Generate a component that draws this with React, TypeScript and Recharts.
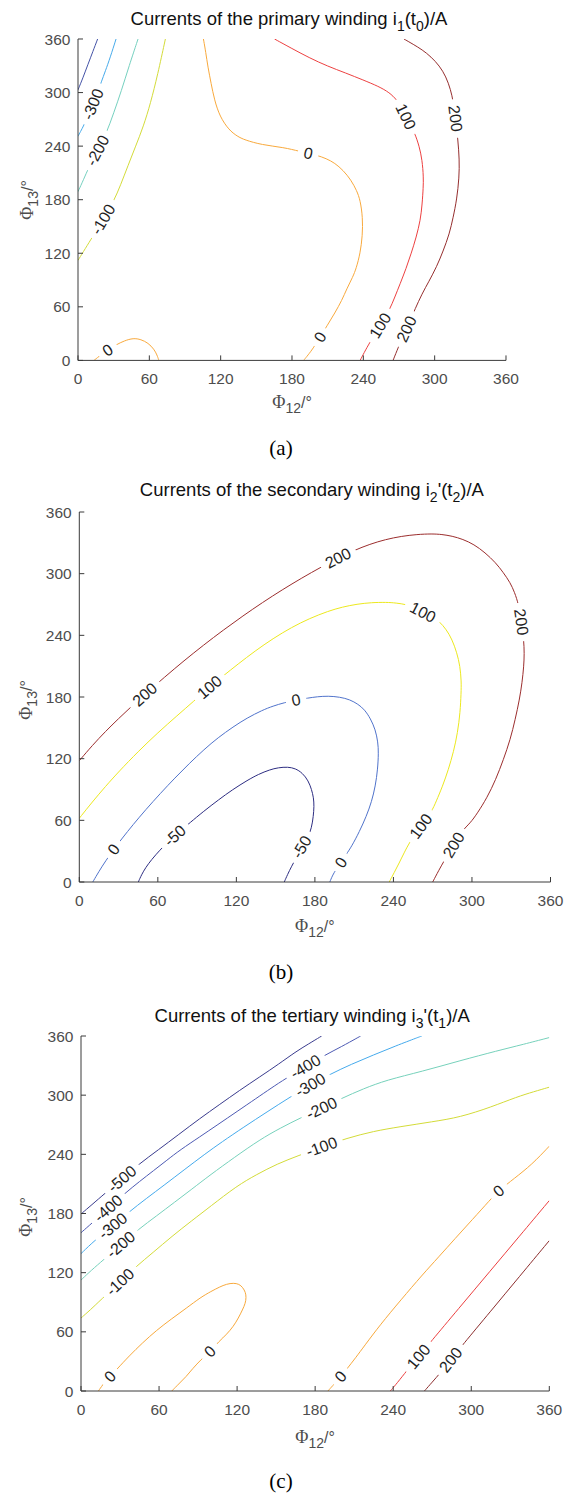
import React from 'react';
import { ComposedChart, Line, Scatter, XAxis, YAxis } from 'recharts';

type Pt = [number, number];
type Lbl = { x: number; y: number; level: number };

const TICKS = [0, 60, 120, 180, 240, 300, 360];

// ---------- Panel (a): primary winding i1(t0) ----------
const A_M400: Pt[] = [[0, 303], [4, 316], [8.5, 332], [12.5, 346], [16.5, 360]];
const A_M300: Pt[] = [[0, 251], [2, 256], [4.8, 263], [8.5, 274], [12.5, 287], [16.5, 300], [19.6, 312], [23, 324], [27, 339], [32, 360]];
const A_M200: Pt[] = [[0, 189], [4.5, 202], [9.3, 217], [16.5, 235], [23.8, 254], [30, 277], [36.5, 302], [43, 330], [50.5, 360]];
const A_M100: Pt[] = [[0, 112], [6, 125], [12.5, 139], [21.2, 158], [30, 178], [36, 197], [42, 218], [48.5, 240], [55, 262], [61, 288], [67, 320], [73.5, 360]];
const A_0A: Pt[] = [[13.5, 0], [19, 6], [25, 11.5], [32, 17.5], [39, 22], [46.5, 25], [53, 23.5], [59, 19.5], [64, 12.5], [66.5, 6], [68, 0]];
const A_0B: Pt[] = [[105.5, 360], [107.5, 345], [109.2, 329], [112, 310], [114.7, 292], [119.3, 273], [127, 258], [134, 251], [140, 247], [154.6, 241.4], [173, 238.6], [186.8, 234], [193.6, 232], [200.5, 230], [209, 226], [216, 221], [223, 213], [229.7, 202], [234.5, 190], [237.4, 179.6], [239.5, 160], [239.3, 140], [237.4, 120], [234, 103], [231.2, 93.6], [226, 80], [222, 67.4], [216, 53], [209.7, 39.3], [203.6, 26], [197.5, 13], [193.5, 6], [189.8, 0]];
const A_100: Pt[] = [[165.3, 360], [179, 350], [194.4, 339], [210, 329.5], [225, 322], [240, 314], [252.7, 307], [262, 300], [268, 292], [272.5, 283], [275.7, 273], [280, 262], [283.3, 254.5], [287, 240], [289.5, 224.6], [290.6, 205], [290.4, 194], [289.5, 175], [288, 157], [284.5, 138], [280.3, 120], [276, 103], [271, 86], [266.5, 71], [261.9, 56], [254.2, 39], [246.5, 22.5], [242, 12], [237.3, 0]];
const A_200: Pt[] = [[274.2, 360], [282, 354], [289.5, 348], [297, 340], [304, 330], [309.5, 318], [313.5, 303], [315.6, 290], [317.5, 271], [319.5, 248], [320.8, 225], [320.6, 205], [318.6, 180], [315.5, 160], [312.5, 142], [307, 122], [301.7, 105], [295, 88], [289.5, 75], [283.3, 57], [280, 46], [276.4, 35], [272.5, 24], [269.5, 15], [265, 0]];
const A_LINES = [
  { level: -400, pts: A_M400 }, { level: -300, pts: A_M300 }, { level: -200, pts: A_M200 },
  { level: -100, pts: A_M100 }, { level: 0, pts: A_0A }, { level: 0, pts: A_0B },
  { level: 100, pts: A_100 }, { level: 200, pts: A_200 },
];
const A_LABELS: Lbl[] = [
  { x: 12.5, y: 287, level: -300 }, { x: 16.5, y: 235, level: -200 }, { x: 21.2, y: 158, level: -100 },
  { x: 25, y: 11.5, level: 0 }, { x: 193.6, y: 232, level: 0 }, { x: 203.6, y: 26, level: 0 },
  { x: 275.7, y: 273, level: 100 }, { x: 254.2, y: 39, level: 100 },
  { x: 317.5, y: 271, level: 200 }, { x: 276.4, y: 35, level: 200 },
];
const A_COLORS: Record<number, string> = {
  [-400]: '#4251a6', [-300]: '#45aaea', [-200]: '#74d0bf', [-100]: '#d3db38',
  0: '#f8a93c', 100: '#ec3f3f', 200: '#952d2d',
};

// ---------- Panel (b): secondary winding i2'(t2) ----------
const B_200: Pt[] = [[0, 118], [10, 133], [20, 146.5], [30, 159], [40, 171], [50, 182.4], [65, 199.2], [80, 215.3], [95, 230.6], [110, 245.1], [125, 258.9], [140, 272], [155, 284.3], [170, 295.8], [185, 306.6], [197.7, 315.1], [210, 322.7], [222, 328.7], [234, 333.3], [246, 336.4], [258, 338.2], [269.4, 338.8], [277, 338.2], [284.8, 336.6], [293, 333.5], [301.5, 328.5], [310, 320.5], [318.2, 310.6], [324, 301], [329.3, 291.1], [332.5, 282], [335.7, 270], [337.7, 253], [339.6, 236], [340, 222], [339.6, 210], [338.3, 194], [336.3, 177.5], [333, 158], [329.3, 138.6], [324, 119], [318.2, 99.6], [311.5, 82], [304.3, 67.2], [298.5, 57], [292.6, 50.3], [286, 36], [279.2, 21.7], [274.5, 11], [270, 0]];
const B_100: Pt[] = [[0, 62], [10, 78], [20, 93], [30, 107.2], [45, 127], [60, 145.3], [75, 162.1], [87, 175.5], [99.5, 189.5], [110, 200.6], [121, 211.8], [134.3, 224.8], [148, 236.9], [162.2, 247.8], [176, 256.5], [190, 263.5], [201, 267.6], [212.3, 270.4], [223, 271.9], [234.6, 272.2], [242, 271.5], [249.9, 270], [256, 267], [262.5, 262.4], [269, 258.5], [275, 253.8], [280.5, 245.5], [284.8, 236], [288.5, 223], [290.9, 210], [291.9, 195], [291.7, 184], [291, 165], [289, 145.1], [286, 127], [282, 109.4], [277.5, 93], [272.5, 78], [269.4, 68.8], [261, 54.2], [252.7, 39.6], [248, 28], [244.4, 18.5], [240.5, 9], [236.8, 0]];
const B_0: Pt[] = [[10.3, 0], [15, 10.3], [20.1, 20.5], [26.3, 31.7], [32.6, 42.3], [41, 55.7], [50.7, 70.3], [62, 86.3], [73, 101.2], [84, 115.3], [95.3, 128.9], [106, 140.5], [117.6, 151], [128, 159.5], [139.9, 167.2], [148, 171.2], [156.6, 174.5], [165.6, 177], [174.7, 179], [182, 180.3], [190, 181], [199, 180], [206.7, 177.5], [213, 173], [217.9, 167.8], [222.5, 159], [226.2, 148.3], [228.2, 136], [228.6, 125.6], [228, 110], [226.2, 93.2], [223.3, 78], [219.3, 63.9], [214, 49], [208.1, 34.7], [204, 27], [200, 19], [194.2, 8.8], [191.4, 0]];
const B_M50: Pt[] = [[45.1, 0], [47.5, 7], [50.7, 14], [55, 21.5], [61.9, 31.5], [67, 38], [73, 45], [78, 50.6], [84.1, 57.2], [95, 68.8], [106.4, 80], [117, 89.8], [128.7, 99.2], [137, 104.9], [145.4, 109.2], [152, 111.3], [159.4, 112], [165, 110.5], [170.5, 106.1], [175, 98.5], [177.5, 89.9], [179, 82], [179.4, 73.7], [178.8, 64], [177.5, 52.6], [174.5, 42.5], [169.8, 34], [166, 24], [162.2, 15.3], [159, 7], [156.6, 0]];
const B_LINES = [
  { level: 200, pts: B_200 }, { level: 100, pts: B_100 }, { level: 0, pts: B_0 }, { level: -50, pts: B_M50 },
];
const B_LABELS: Lbl[] = [
  { x: 50, y: 182.4, level: 200 }, { x: 197.7, y: 315.1, level: 200 }, { x: 337.7, y: 253, level: 200 }, { x: 286, y: 36, level: 200 },
  { x: 99.5, y: 189.5, level: 100 }, { x: 262.5, y: 262.4, level: 100 }, { x: 261, y: 54.2, level: 100 },
  { x: 26.3, y: 31.7, level: 0 }, { x: 165.6, y: 177, level: 0 }, { x: 200, y: 19, level: 0 },
  { x: 73, y: 45, level: -50 }, { x: 169.8, y: 34, level: -50 },
];
const B_COLORS: Record<number, string> = {
  200: '#9b2d2d', 100: '#ece81e', 0: '#5073cb', [-50]: '#2d2d82',
};

// ---------- Panel (c): tertiary winding i3'(t1) ----------
const C_M500: Pt[] = [[0, 179.5], [8, 188.5], [18.5, 200.5], [31.5, 215], [44.6, 230.2], [59.4, 244.5], [75, 260], [91.5, 276.5], [106, 290], [122, 305], [137.6, 318.7], [152, 331.5], [165, 344], [175, 352], [185, 360]];
const C_M400: Pt[] = [[0, 160.5], [8.2, 170], [21, 185.2], [33.8, 200.5], [45, 212.5], [55.8, 223.5], [66, 234], [76.1, 244.4], [91.5, 257.9], [105, 270], [120, 283.5], [135, 297], [146, 307], [157.6, 317.1], [172.6, 328.9], [187.6, 340.7], [200, 349], [213.2, 358.7], [215, 360]];
const C_M300: Pt[] = [[0, 139.3], [10.8, 153.1], [24.5, 167.4], [37.1, 181.8], [50, 195], [64.2, 209], [80, 225], [95, 240], [108.2, 252.5], [125, 267.5], [143, 283], [161.2, 298.5], [176.3, 310.2], [191.4, 321.2], [208, 331.5], [224.7, 340.7], [242, 350], [259.3, 358.7], [262, 360]];
const C_M200: Pt[] = [[0, 112.5], [8, 122.5], [17.1, 132.8], [30.6, 148.4], [44.1, 163.9], [58, 177.5], [72, 191.5], [85, 204.5], [99.2, 219], [118, 237], [137.6, 255], [153, 266.5], [169.7, 277.6], [185, 286.7], [200.4, 296.8], [217, 306.5], [235, 315.4], [262, 324], [291.4, 335], [320, 345], [340, 351.5], [360, 358.4]];
const C_M100: Pt[] = [[0, 74], [7, 82], [15.4, 92.7], [30, 110.5], [42.8, 126.8], [55, 140], [70, 157], [85, 172.5], [99.2, 186.9], [120, 208.2], [135, 219.5], [150.7, 230.3], [167.4, 238.8], [185, 247.5], [204.2, 256.3], [225, 263.5], [245.2, 268], [270, 273], [291.4, 277.6], [315.4, 288], [335, 298.2], [348, 303.5], [360, 308.1]];
const C_0A: Pt[] = [[13.4, 0], [18.1, 9], [22.3, 14.6], [27.9, 22.5], [37, 35.5], [47.4, 49], [58, 61.5], [69.4, 73], [81, 84], [92, 95], [100, 101], [106.5, 105.5], [112, 108.5], [117.2, 109.5], [121.5, 108.5], [124.4, 105], [126.5, 100], [127, 95], [126.4, 89], [124.2, 82.5], [121, 74], [117.2, 65.6], [112, 57.5], [106.1, 50.3], [99.1, 40.1], [92.1, 31.6], [86, 23], [80.9, 14.6], [75, 7], [69.8, 0]];
const C_0B: Pt[] = [[189.8, 0], [195, 7.5], [199.6, 14.6], [204.5, 22.5], [211, 33.5], [218, 46], [229.9, 67], [246, 92.5], [262.4, 117.8], [275, 136], [287.5, 154.5], [301, 174], [314.4, 193.7], [321, 203], [333, 215.5], [346.5, 229.5], [360, 248.3]];
const C_100: Pt[] = [[237.8, 0], [243, 8], [250.4, 20.6], [259.5, 34.8], [268.3, 49], [290, 83.1], [314.4, 121.4], [337, 156.9], [360, 193.1]];
const C_200: Pt[] = [[264, 0], [270, 9], [276, 18], [284.2, 31.5], [292.6, 45.6], [315, 81], [337, 116], [360, 152.5]];
const C_LINES = [
  { level: -500, pts: C_M500 }, { level: -400, pts: C_M400 }, { level: -300, pts: C_M300 },
  { level: -200, pts: C_M200 }, { level: -100, pts: C_M100 }, { level: 0, pts: C_0A },
  { level: 0, pts: C_0B }, { level: 100, pts: C_100 }, { level: 200, pts: C_200 },
];
const C_LABELS: Lbl[] = [
  { x: 31.5, y: 215, level: -500 },
  { x: 21, y: 185.2, level: -400 }, { x: 172.6, y: 328.9, level: -400 },
  { x: 24.5, y: 167.4, level: -300 }, { x: 176.3, y: 310.2, level: -300 },
  { x: 30.6, y: 148.4, level: -200 }, { x: 185, y: 286.7, level: -200 },
  { x: 30, y: 110.5, level: -100 }, { x: 185, y: 247.5, level: -100 },
  { x: 22.3, y: 14.6, level: 0 }, { x: 99.1, y: 40.1, level: 0 }, { x: 199.6, y: 14.6, level: 0 }, { x: 321, y: 203, level: 0 },
  { x: 259.5, y: 34.8, level: 100 }, { x: 284.2, y: 31.5, level: 200 },
];
const C_COLORS: Record<number, string> = {
  [-500]: '#393b8d', [-400]: '#4d5ab3', [-300]: '#45aaec', [-200]: '#76d1bb', [-100]: '#d3db38',
  0: '#f8a93c', 100: '#ec3f3f', 200: '#8c2d2d',
};

// ---------- rendering ----------
const SANS = '"Liberation Sans", Arial, Helvetica, sans-serif';
const SERIF = '"Liberation Serif", "Times New Roman", serif';
const W = 570;
const FRAME = '#3a3a3a';
const TICKTXT = '#4d4d4d';

type Frame = { left: number; right: number; top: number; bottom: number };
type LineDef = { level: number; pts: Pt[] };

function labelAngle(l: Lbl, lines: LineDef[], kx: number, ky: number) {
  let best: Pt[] | null = null;
  let bi = 0;
  let bd = Infinity;
  for (const ln of lines) {
    if (ln.level !== l.level) continue;
    ln.pts.forEach((p, i) => {
      const d = ((p[0] - l.x) * kx) ** 2 + ((p[1] - l.y) * ky) ** 2;
      if (d < bd) { bd = d; best = ln.pts; bi = i; }
    });
  }
  if (!best) return 0;
  const pts = best as Pt[];
  const a = pts[Math.max(0, bi - 1)];
  const b = pts[Math.min(pts.length - 1, bi + 1)];
  let ang = (Math.atan2(-(b[1] - a[1]) * ky, (b[0] - a[0]) * kx) * 180) / Math.PI;
  if (ang > 90) ang -= 180;
  if (ang <= -90) ang += 180;
  return ang;
}

function ContourPanel({ frame, lines, labels, colors, tickMarginX }: {
  frame: Frame; lines: LineDef[]; labels: Lbl[]; colors: Record<number, string>; tickMarginX: number;
}) {
  const mTop = 30;
  const axisH = 40;
  const mBottom = 20;
  const svgTop = frame.top - mTop;
  const svgH = frame.bottom - frame.top + mTop + axisH + mBottom;
  const kx = (frame.right - frame.left) / 360;
  const ky = (frame.bottom - frame.top) / 360;
  const fontSize = 16;

  const renderLabel = (props: any) => {
    const { cx, cy } = props;
    const p: Lbl = props.payload ?? props;
    if (cx == null || cy == null) return <g />;
    const text = String(p.level);
    const ang = labelAngle(p, lines, kx, ky);
    let w = 0;
    for (const ch of text) w += ch === '-' ? 0.333 : 0.556;
    w = w * fontSize + 12;
    return (
      <g transform={`translate(${cx},${cy}) rotate(${ang})`}>
        <rect x={-w / 2} y={-4} width={w} height={8} fill="#ffffff" />
        <text x={0} y={0} textAnchor="middle" dominantBaseline="central" fontSize={fontSize}
          fontFamily={SANS} fill="#1e1e1e">{text}</text>
      </g>
    );
  };

  const tickStyle = { fill: TICKTXT, fontSize: 15.5, fontFamily: SANS };
  return (
    <div style={{ position: 'absolute', left: 0, top: svgTop, width: W, height: svgH }}>
      <ComposedChart width={W} height={svgH}
        margin={{ top: mTop, right: W - frame.right, bottom: mBottom, left: 0 }}>
        <XAxis type="number" dataKey="x" domain={[0, 360]} ticks={TICKS} allowDataOverflow
          height={axisH} tickSize={-5} tickMargin={tickMarginX} tick={tickStyle}
          axisLine={{ stroke: FRAME }} tickLine={{ stroke: FRAME }} interval={0} />
        <XAxis xAxisId="t" orientation="top" type="number" dataKey="x" domain={[0, 360]} ticks={TICKS}
          allowDataOverflow height={0} tickSize={-5} tick={false}
          axisLine={{ stroke: FRAME }} tickLine={{ stroke: FRAME }} interval={0} />
        <YAxis type="number" dataKey="y" domain={[0, 360]} ticks={TICKS} allowDataOverflow
          width={frame.left} tickSize={-5} tickMargin={12.6} tick={tickStyle}
          axisLine={{ stroke: FRAME }} tickLine={{ stroke: FRAME }} interval={0} />
        <YAxis yAxisId="r" orientation="right" type="number" dataKey="y" domain={[0, 360]} ticks={TICKS}
          allowDataOverflow width={0} tickSize={-5} tick={false}
          axisLine={{ stroke: FRAME }} tickLine={{ stroke: FRAME }} interval={0} />
        {lines.map((ln, i) => (
          <Line key={i} data={ln.pts.map(([x, y]) => ({ x, y }))} dataKey="y" type="basis"
            stroke={colors[ln.level]} strokeWidth={1} dot={false} activeDot={false}
            isAnimationActive={false} />
        ))}
        <Scatter data={labels} dataKey="y" shape={renderLabel} isAnimationActive={false} />
      </ComposedChart>
    </div>
  );
}

function Sub({ children, size, dy }: { children: React.ReactNode; size: number; dy: number }) {
  return <span style={{ fontSize: size, position: 'relative', top: dy }}>{children}</span>;
}

function Title({ cx, cy, children }: { cx: number; cy: number; children: React.ReactNode }) {
  return (
    <div style={{ position: 'absolute', left: cx - 3 - 250, width: 500, top: cy - 13, height: 26,
      lineHeight: '26px', textAlign: 'center', fontFamily: SANS, fontSize: 18.5, color: '#111', whiteSpace: 'nowrap' }}>
      {children}
    </div>
  );
}

function PhiLabel({ sub }: { sub: string }) {
  return (
    <>
      <span style={{ fontFamily: SERIF, fontSize: 18 }}>Φ</span>
      <Sub size={14} dy={5}>{sub}</Sub>
      <span>/°</span>
    </>
  );
}

function XLabel({ cx, cy }: { cx: number; cy: number }) {
  return (
    <div style={{ position: 'absolute', left: cx - 60, width: 120, top: cy - 12, height: 24, lineHeight: '24px',
      textAlign: 'center', fontFamily: SANS, fontSize: 16, color: TICKTXT, whiteSpace: 'nowrap' }}>
      <PhiLabel sub="12" />
    </div>
  );
}

function YLabel({ cx, cy }: { cx: number; cy: number }) {
  return (
    <div style={{ position: 'absolute', left: cx - 60, width: 120, top: cy - 12, height: 24, lineHeight: '24px',
      textAlign: 'center', fontFamily: SANS, fontSize: 16, color: TICKTXT, whiteSpace: 'nowrap',
      transform: 'rotate(-90deg)', transformOrigin: '50% 50%' }}>
      <PhiLabel sub="13" />
    </div>
  );
}

function Caption({ cy, text }: { cy: number; text: string }) {
  return (
    <div style={{ position: 'absolute', left: 281 - 40, width: 80, top: cy - 11, height: 22, lineHeight: '22px',
      textAlign: 'center', fontFamily: SERIF, fontSize: 21, color: '#000' }}>{text}</div>
  );
}

const FA: Frame = { left: 78, right: 506, top: 39.3, bottom: 360.7 };
const FB: Frame = { left: 79.3, right: 550.5, top: 512.3, bottom: 882.3 };
const FC: Frame = { left: 81, right: 549.3, top: 1036, bottom: 1391 };

export default function App() {
  const cxA = (FA.left + FA.right) / 2;
  const cxB = (FB.left + FB.right) / 2;
  const cxC = (FC.left + FC.right) / 2;
  return (
    <div style={{ position: 'absolute', left: 0, top: 0, width: W, height: 1493, background: '#fff', fontFamily: SANS, overflow: 'hidden' }}>
      <ContourPanel frame={FA} lines={A_LINES} labels={A_LABELS} colors={A_COLORS} tickMarginX={17.7} />
      <ContourPanel frame={FB} lines={B_LINES} labels={B_LABELS} colors={B_COLORS} tickMarginX={18} />
      <ContourPanel frame={FC} lines={C_LINES} labels={C_LABELS} colors={C_COLORS} tickMarginX={18} />

      <Title cx={cxA} cy={18.5}>Currents of the primary winding i<Sub size={14} dy={6}>1</Sub>(t<Sub size={14} dy={6}>0</Sub>)/A</Title>
      <Title cx={cxB} cy={490.3}>Currents of the secondary winding i<Sub size={14} dy={6}>2</Sub>'(t<Sub size={14} dy={6}>2</Sub>)/A</Title>
      <Title cx={cxC} cy={1016}>Currents of the tertiary winding i<Sub size={14} dy={6}>3</Sub>'(t<Sub size={14} dy={6}>1</Sub>)/A</Title>

      <XLabel cx={cxA} cy={401.5} />
      <XLabel cx={cxB} cy={926} />
      <XLabel cx={cxC} cy={1437} />

      <YLabel cx={27} cy={(FA.top + FA.bottom) / 2} />
      <YLabel cx={25.5} cy={(FB.top + FB.bottom) / 2 + 3} />
      <YLabel cx={25.5} cy={(FC.top + FC.bottom) / 2 + 3} />

      <Caption cy={448.3} text="(a)" />
      <Caption cy={971.7} text="(b)" />
      <Caption cy={1481} text="(c)" />
    </div>
  );
}
